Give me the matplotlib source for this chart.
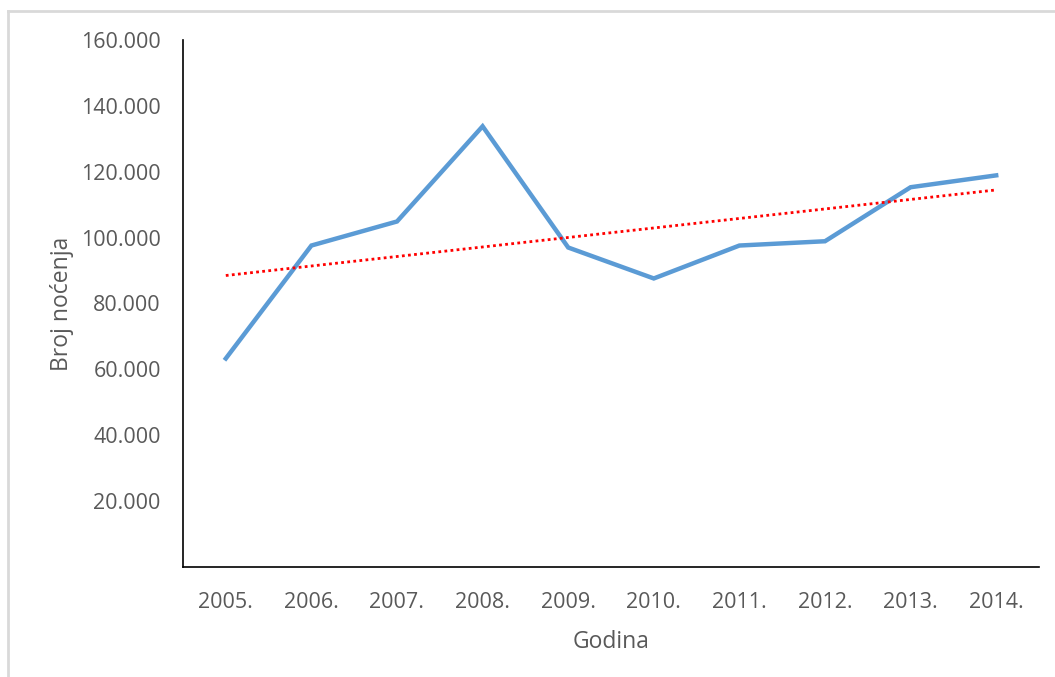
import matplotlib.pyplot as plt
import numpy as np
from matplotlib.lines import Line2D

# data
years = ['2005.', '2006.', '2007.', '2008.', '2009.', '2010.', '2011.', '2012.', '2013.', '2014.']
nights = [63300, 97600, 104900, 133800, 97000, 87600, 97600, 98900, 115300, 118900]
y_ticks = [20000, 40000, 60000, 80000, 100000, 120000, 140000, 160000]

plt.rcParams['font.family'] = ['Open Sans', 'DejaVu Sans']
grey = '#595959'

fig = plt.figure(figsize=(10.55, 6.77), dpi=100)
ax = fig.add_axes([183 / 1055, 110 / 677, (1039 - 183) / 1055, (567 - 40) / 677])

x = np.arange(len(years))
ax.plot(x, nights, color='#5B9BD5', linewidth=3.2, solid_joinstyle='miter')

# linear trend line
k, b = np.polyfit(x, nights, 1)
ax.plot(x, k * x + b, color='#FF0000', linestyle=(0, (1, 1.2)), linewidth=2)

ax.set_xlim(-0.5, len(years) - 0.5)
ax.set_ylim(0, 160000)
ax.set_xticks(x)
ax.set_xticklabels(years)
ax.set_yticks(y_ticks)
ax.set_yticklabels([f'{v:,}'.replace(',', '.') for v in y_ticks])
ax.tick_params(length=0, labelsize=15.5, colors=grey)
ax.tick_params(axis='x', pad=18)
ax.tick_params(axis='y', pad=16)

for side in ['top', 'right']:
    ax.spines[side].set_visible(False)
for side in ['left', 'bottom']:
    ax.spines[side].set_color('black')
    ax.spines[side].set_linewidth(1.2)

ax.set_xlabel('Godina', fontsize=16.5, color=grey, labelpad=12)
ax.set_ylabel('Broj noćenja', fontsize=16.5, color=grey, labelpad=5)

# outer chart frame
fig.add_artist(Line2D([8 / 1055, 8 / 1055], [0, 1 - 11 / 677], transform=fig.transFigure, color='#d9d9d9', linewidth=2))
fig.add_artist(Line2D([8 / 1055, 1], [1 - 11 / 677, 1 - 11 / 677], transform=fig.transFigure, color='#d9d9d9', linewidth=2))

fig.savefig('out.png', dpi=100)
